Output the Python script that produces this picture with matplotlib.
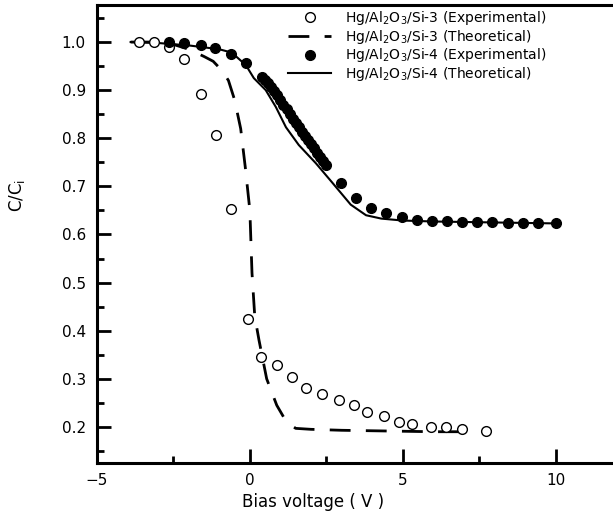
import numpy as np
import matplotlib
matplotlib.use("Agg")
import matplotlib.pyplot as plt
from matplotlib.ticker import MultipleLocator

plt.rcParams["font.family"] = ["DejaVu Sans"]
plt.rcParams["mathtext.default"] = "regular"

# Hg/Al2O3/Si-3 experimental (open circles)
v3_exp = [-3.63, -3.14, -2.65, -2.16, -1.60, -1.11, -0.62, -0.07, 0.36, 0.88,
          1.37, 1.83, 2.35, 2.91, 3.40, 3.82, 4.38, 4.87, 5.29, 5.92, 6.40,
          6.93, 7.71]
c3_exp = [1.000, 1.000, 0.989, 0.964, 0.893, 0.806, 0.654, 0.425, 0.346, 0.328,
          0.303, 0.280, 0.268, 0.255, 0.245, 0.232, 0.222, 0.211, 0.207, 0.199,
          0.199, 0.195, 0.191]

# Hg/Al2O3/Si-3 theoretical (dashed)
v3_th = [-3.9, -3.0, -2.5, -2.0, -1.5, -1.2, -0.9, -0.7, -0.5, -0.3, -0.15, 0.0,
         0.07, 0.16, 0.30, 0.55, 0.88, 1.2, 1.5, 2.0, 3.0, 4.0, 5.0, 6.0, 7.3]
c3_th = [1.000, 1.000, 0.995, 0.985, 0.970, 0.960, 0.940, 0.920, 0.880, 0.820,
         0.740, 0.650, 0.520, 0.430, 0.380, 0.300, 0.245, 0.210, 0.197, 0.195,
         0.193, 0.192, 0.191, 0.190, 0.190]

# Hg/Al2O3/Si-4 experimental (filled circles)
v4_exp = [-2.65, -2.16, -1.60, -1.14, -0.62, -0.13,
          0.4, 0.5, 0.6, 0.7, 0.8, 0.9, 1.0, 1.1, 1.2, 1.3, 1.4, 1.5, 1.6, 1.7,
          1.8, 1.9, 2.0, 2.1, 2.2, 2.3, 2.4, 2.5,
          2.97, 3.46, 3.95, 4.44, 4.97, 5.46, 5.96, 6.44, 6.93, 7.42, 7.91,
          8.43, 8.92, 9.44, 10.0]
c4_exp = [1.000, 0.997, 0.993, 0.987, 0.976, 0.956,
          0.928, 0.922, 0.915, 0.907, 0.899, 0.890, 0.880, 0.870, 0.860, 0.850,
          0.840, 0.832, 0.823, 0.814, 0.805, 0.797, 0.788, 0.779, 0.770, 0.761,
          0.752, 0.744,
          0.706, 0.676, 0.656, 0.644, 0.636, 0.631, 0.629, 0.627, 0.626, 0.625,
          0.625, 0.624, 0.624, 0.623, 0.623]

# Hg/Al2O3/Si-4 theoretical (solid)
v4_th = [-3.9, -3.0, -2.0, -1.0, -0.59, -0.13, 0.13, 0.52, 0.85, 1.18, 1.6,
         2.16, 2.68, 3.3, 3.8, 4.3, 5.0, 6.0, 7.0, 8.0, 9.0, 10.0]
c4_th = [1.000, 0.998, 0.993, 0.985, 0.978, 0.952, 0.925, 0.900, 0.865, 0.823,
         0.786, 0.748, 0.709, 0.662, 0.640, 0.633, 0.629, 0.627, 0.626, 0.625,
         0.624, 0.623]

fig = plt.figure(figsize=(6.13, 5.22), dpi=100)
ax = fig.add_axes([97 / 613, 59 / 522, 535 / 613, 458 / 522])

ax.plot(v3_exp, c3_exp, 'o', ms=7, mfc='white', mec='black', mew=1.0,
        label=r'Hg/Al$_2$O$_3$/Si-3 (Experimental)', zorder=3)
ax.plot(v3_th, c3_th, color='black', lw=2.0, dashes=(7.5, 5.5),
        label=r'Hg/Al$_2$O$_3$/Si-3 (Theoretical)')
ax.plot(v4_exp, c4_exp, 'o', ms=7, mfc='black', mec='black',
        label=r'Hg/Al$_2$O$_3$/Si-4 (Experimental)', zorder=3)
ax.plot(v4_th, c4_th, color='black', lw=1.5,
        label=r'Hg/Al$_2$O$_3$/Si-4 (Theoretical)')

ax.set_xlim(-5, 12.5)
ax.set_ylim(0.125, 1.077)
ax.xaxis.set_major_locator(MultipleLocator(5))
ax.xaxis.set_minor_locator(MultipleLocator(2.5))
ax.yaxis.set_major_locator(MultipleLocator(0.1))
ax.yaxis.set_minor_locator(MultipleLocator(0.05))
ax.tick_params(which='both', direction='in', width=2, labelsize=11)
ax.tick_params(which='major', length=10)
ax.tick_params(which='minor', length=5)
ax.tick_params(axis='x', pad=7)
ax.tick_params(axis='y', pad=8)
ax.yaxis.set_major_formatter(matplotlib.ticker.FormatStrFormatter('%.1f'))
for s in ax.spines.values():
    s.set_linewidth(2.2)

ax.set_xlabel('Bias voltage ( V )', fontsize=12)
ax.xaxis.set_label_coords((313 - 97) / 535, -30 / 458)
ax.set_ylabel(r'C/C$_{\rm i}$', fontsize=12)
ax.yaxis.set_label_coords(-70 / 535, (463 - 195) / 458)

ax.legend(loc='upper left', bbox_to_anchor=(288 / 613, 1 - 9 / 522),
          bbox_transform=fig.transFigure, frameon=False, fontsize=10,
          handlelength=3.1, handletextpad=1.0, labelspacing=0.05,
          borderpad=0, borderaxespad=0)

fig.savefig('out.png', dpi=100)
